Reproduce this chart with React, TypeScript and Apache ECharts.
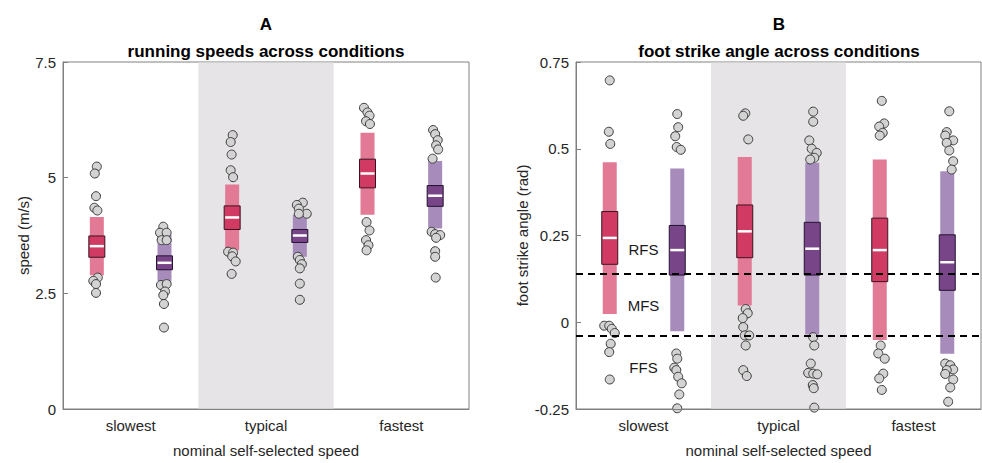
import React, { useEffect, useRef } from 'react';
import * as echarts from 'echarts';

const categories = ['slowest', 'typical', 'fastest'];

// per condition: [lower bar, upper bar, box low, box high, median]
const speedRedStats = [
  [2.89, 4.15, 3.28, 3.74, 3.52],
  [3.43, 4.85, 3.88, 4.39, 4.14],
  [4.2, 5.97, 4.78, 5.4, 5.09],
];
const speedPurpleStats = [
  [2.76, 3.76, 3.01, 3.31, 3.16],
  [3.29, 4.2, 3.6, 3.88, 3.75],
  [3.9, 5.36, 4.38, 4.83, 4.61],
];
const angleRedStats = [
  [0.024, 0.461, 0.167, 0.319, 0.243],
  [0.048, 0.476, 0.186, 0.338, 0.262],
  [-0.051, 0.469, 0.117, 0.3, 0.208],
];
const anglePurpleStats = [
  [-0.026, 0.443, 0.136, 0.279, 0.208],
  [-0.035, 0.46, 0.136, 0.288, 0.212],
  [-0.091, 0.435, 0.092, 0.252, 0.173],
];

// individual runners per condition: [value, horizontal jitter in category units]
const speedRedPoints = [
  [[5.24, 0], [5.09, -0.015], [4.6, -0.006], [4.35, -0.018], [4.29, 0.004], [2.84, 0.007], [2.77, -0.026], [2.7, -0.006], [2.51, -0.006]],
  [[5.92, 0.004], [5.77, -0.011], [5.5, -0.004], [5.16, -0.011], [5.01, 0.007], [3.4, -0.03], [3.38, 0.007], [3.3, 0], [3.19, 0.026], [2.92, -0.004]],
  [[6.51, -0.026], [6.41, 0], [6.34, 0.015], [6.22, -0.011], [6.16, 0.018], [4.04, -0.007], [3.86, 0.015], [3.65, -0.011], [3.54, 0.007], [3.43, -0.007]],
];
const speedPurplePoints = [
  [[3.94, -0.009], [3.81, -0.033], [3.81, 0.016], [3.65, -0.021], [3.65, 0.016], [2.68, -0.026], [2.7, 0.016], [2.54, 0.004], [2.46, -0.009], [2.27, -0.004], [1.76, -0.004]],
  [[4.46, 0.022], [4.41, -0.022], [4.33, -0.007], [4.22, 0.051], [4.22, -0.007], [3.29, -0.015], [3.22, 0], [3.13, 0.015], [3.04, 0], [2.71, 0], [2.36, 0]],
  [[6.03, -0.015], [5.94, 0], [5.81, 0.019], [5.7, 0.007], [5.61, 0.022], [5.41, -0.019], [3.83, -0.026], [3.78, 0], [3.76, 0.037], [3.7, 0.007], [3.41, 0], [3.29, 0], [2.84, 0.004]],
];
const angleRedPoints = [
  [[0.697, 0], [0.549, -0.007], [0.514, 0.004], [-0.01, -0.041], [-0.01, -0.004], [-0.019, 0.015], [-0.031, 0.037], [-0.062, 0.007], [-0.086, -0.004], [-0.165, 0]],
  [[0.602, 0.004], [0.595, -0.011], [0.527, 0.026], [0.038, 0.007], [0.026, 0.022], [0.012, -0.015], [-0.014, -0.011], [-0.038, 0], [-0.038, 0.033], [-0.067, 0.007], [-0.138, -0.011], [-0.155, 0.015]],
  [[0.638, 0.015], [0.573, 0.033], [0.564, -0.004], [0.546, 0.022], [0.538, 0], [-0.067, 0.007], [-0.09, -0.011], [-0.105, 0.037], [-0.148, 0.026], [-0.162, -0.004], [-0.195, 0.015]],
];
const anglePurplePoints = [
  [[0.6, 0], [0.562, 0.007], [0.536, -0.015], [0.505, -0.004], [0.497, 0.026], [-0.09, -0.007], [-0.105, 0], [-0.131, -0.022], [-0.138, -0.007], [-0.157, 0.007], [-0.176, 0.033], [-0.208, 0.015], [-0.248, 0]],
  [[0.607, 0.007], [0.578, 0.007], [0.524, -0.022], [0.5, -0.004], [0.488, 0.033], [0.474, 0.015], [0.469, -0.015], [-0.043, 0.007], [-0.067, 0.015], [-0.119, -0.011], [-0.146, -0.03], [-0.148, 0.007], [-0.15, 0.037], [-0.181, 0.004], [-0.19, 0.011], [-0.246, 0.015]],
  [[0.608, 0.015], [0.548, -0.004], [0.538, -0.015], [0.524, 0.044], [0.517, -0.004], [0.495, 0.015], [0.464, 0.044], [0.44, 0.033], [-0.119, -0.015], [-0.124, 0.022], [-0.136, 0.044], [-0.138, -0.004], [-0.149, -0.015], [-0.165, 0.044], [-0.188, 0.022], [-0.229, 0.007]],
];

// foot strike zone boundaries (rad) and zone labels
const strikeThresholds = [0.135, -0.036];
const strikeZones = [
  ['RFS', 0.209],
  ['MFS', 0.048],
  ['FFS', -0.129],
];

// the "typical" condition band, in category units
const typicalBand = [0.5, 1.5];

const speedTicks = { min: 0, max: 7.5, interval: 2.5 };
const angleTicks = { min: -0.25, max: 0.75, interval: 0.25 };

const FONT = "'Liberation Sans', Arial, Helvetica, sans-serif";
const AXIS_GRAY = '#808080';
const TEXT = '#262626';

const RED = { light: '#e27a95', dark: '#d13b63', edge: '#3a1420' };
const PURPLE = { light: '#a68bbb', dark: '#784589', edge: '#251330' };

function bandSeries(xAxisIndex: number, yAxisIndex: number) {
  return {
    type: 'custom',
    xAxisIndex,
    yAxisIndex,
    z: 1,
    silent: true,
    data: [[typicalBand[0], typicalBand[1], 0]],
    encode: { x: [0, 1], y: 2 },
    renderItem: (params: any, api: any) => {
      const cs = params.coordSys;
      const a = api.coord([api.value(0), api.value(2)])[0];
      const b = api.coord([api.value(1), api.value(2)])[0];
      return {
        type: 'rect',
        shape: { x: a, y: cs.y + 0.5, width: b - a, height: cs.height - 1 },
        style: { fill: '#e6e4e6' },
      };
    },
  };
}

function statsSeries(stats: number[][], side: number, c: any, xAxisIndex: number, yAxisIndex: number) {
  return {
    type: 'custom',
    xAxisIndex,
    yAxisIndex,
    z: 2,
    silent: true,
    data: stats.map((s, i) => [i + side, ...s]),
    encode: { x: 0, y: [1, 2, 3, 4, 5] },
    renderItem: (params: any, api: any) => {
      const x = api.value(0);
      const lo = api.coord([x, api.value(1)]);
      const hi = api.coord([x, api.value(2)]);
      const q1 = api.coord([x, api.value(3)]);
      const q3 = api.coord([x, api.value(4)]);
      const md = api.coord([x, api.value(5)]);
      const barW = 14;
      const boxW = 16;
      return {
        type: 'group',
        children: [
          {
            type: 'rect',
            shape: { x: lo[0] - barW / 2, y: hi[1], width: barW, height: lo[1] - hi[1] },
            style: { fill: c.light },
          },
          {
            type: 'rect',
            shape: { x: q1[0] - boxW / 2, y: q3[1], width: boxW, height: q1[1] - q3[1] },
            style: { fill: c.dark, stroke: c.edge, lineWidth: 1 },
          },
          {
            type: 'line',
            shape: { x1: md[0] - boxW / 2 + 1, y1: md[1], x2: md[0] + boxW / 2 - 1, y2: md[1] },
            style: { stroke: '#ffffff', lineWidth: 2.5 },
          },
        ],
      };
    },
  };
}

function pointSeries(points: number[][][], side: number, xAxisIndex: number, yAxisIndex: number, extra: any = {}) {
  return {
    type: 'scatter',
    xAxisIndex,
    yAxisIndex,
    z: 3,
    silent: true,
    symbolSize: 9,
    itemStyle: { color: '#d3d3d3', borderColor: '#3c3c3c', borderWidth: 1, opacity: 1 },
    data: points.flatMap((grp, i) => grp.map(([v, j]) => [i + side + j, v])),
    ...extra,
  };
}

// zone names written at the slowest-condition position inside the angle panel
function zoneLabelSeries(xAxisIndex: number, yAxisIndex: number) {
  return {
    type: 'custom',
    xAxisIndex,
    yAxisIndex,
    z: 6,
    silent: true,
    data: strikeZones.map(([name, v]) => [0, v, name]),
    encode: { x: 0, y: 1 },
    renderItem: (params: any, api: any) => {
      const p = api.coord([api.value(0), api.value(1)]);
      const name = strikeZones[params.dataIndex][0] as string;
      return {
        type: 'text',
        x: p[0],
        y: p[1],
        style: {
          text: name,
          fill: '#1a1a1a',
          font: `15px ${FONT}`,
          align: 'center',
          verticalAlign: 'middle',
        },
      };
    },
  };
}

function categoryAxis(gridIndex: number) {
  return {
    type: 'category',
    gridIndex,
    data: categories,
    boundaryGap: true,
    axisTick: { show: false },
    axisLine: { onZero: false, lineStyle: { color: AXIS_GRAY, width: 1 } },
    axisLabel: { fontSize: 15, color: TEXT, fontFamily: FONT, margin: 9 },
    name: 'nominal self-selected speed',
    nameLocation: 'middle',
    nameGap: 34,
    nameTextStyle: { fontSize: 15, color: TEXT, fontFamily: FONT },
    z: 4,
  };
}

function positionAxis(gridIndex: number) {
  return { type: 'value', gridIndex, show: false, min: -0.5, max: 2.5 };
}

function valueAxis(gridIndex: number, ticks: any, name: string, nameGap: number) {
  return {
    type: 'value',
    gridIndex,
    min: ticks.min,
    max: ticks.max,
    interval: ticks.interval,
    name,
    nameLocation: 'middle',
    nameGap,
    nameTextStyle: { fontSize: 15, color: TEXT, fontFamily: FONT },
    axisLine: { show: true, onZero: false, lineStyle: { color: AXIS_GRAY, width: 1 } },
    axisTick: { show: true, inside: true, length: 5, lineStyle: { color: AXIS_GRAY } },
    axisLabel: { fontSize: 15, color: TEXT, fontFamily: FONT, margin: 7 },
    splitLine: { show: false },
    z: 4,
  };
}

export default function App() {
  const ref = useRef<HTMLDivElement>(null);

  useEffect(() => {
    if (!ref.current) return;
    const chart = echarts.init(ref.current, undefined, { renderer: 'svg' });
    const titleStyle = { fontSize: 17, fontWeight: 'bold', color: '#000', fontFamily: FONT };
    chart.setOption({
      animation: false,
      backgroundColor: '#ffffff',
      textStyle: { fontFamily: FONT },
      title: [
        { text: 'A', left: 266, top: 16, textAlign: 'center', padding: 0, textStyle: titleStyle },
        { text: 'running speeds across conditions', left: 266, top: 43, textAlign: 'center', padding: 0, textStyle: titleStyle },
        { text: 'B', left: 779, top: 16, textAlign: 'center', padding: 0, textStyle: titleStyle },
        { text: 'foot strike angle across conditions', left: 779, top: 43, textAlign: 'center', padding: 0, textStyle: titleStyle },
      ],
      grid: [
        { left: 63, top: 62, width: 406, height: 351, show: true, borderColor: AXIS_GRAY, borderWidth: 1, backgroundColor: 'transparent' },
        { left: 576, top: 62, width: 405, height: 351, show: true, borderColor: AXIS_GRAY, borderWidth: 1, backgroundColor: 'transparent' },
      ],
      xAxis: [categoryAxis(0), positionAxis(0), categoryAxis(1), positionAxis(1)],
      yAxis: [
        valueAxis(0, speedTicks, 'speed (m/s)', 27),
        valueAxis(1, angleTicks, 'foot strike angle (rad)', 46),
      ],
      series: [
        bandSeries(1, 0),
        bandSeries(3, 1),
        statsSeries(speedRedStats, -0.25, RED, 1, 0),
        statsSeries(speedPurpleStats, 0.25, PURPLE, 1, 0),
        statsSeries(angleRedStats, -0.25, RED, 3, 1),
        statsSeries(anglePurpleStats, 0.25, PURPLE, 3, 1),
        pointSeries(speedRedPoints, -0.25, 1, 0),
        pointSeries(speedPurplePoints, 0.25, 1, 0),
        pointSeries(angleRedPoints, -0.25, 3, 1),
        pointSeries(anglePurplePoints, 0.25, 3, 1, {
          markLine: {
            silent: true,
            symbol: ['none', 'none'],
            label: { show: false },
            lineStyle: { color: '#000000', width: 2, type: [7, 5] },
            data: strikeThresholds.map((v) => ({ yAxis: v })),
            z: 5,
          },
        }),
        zoneLabelSeries(3, 1),
      ],
    });
    return () => chart.dispose();
  }, []);

  return (
    <div
      ref={ref}
      style={{ position: 'absolute', left: 0, top: 0, width: 982, height: 463 }}
    />
  );
}
